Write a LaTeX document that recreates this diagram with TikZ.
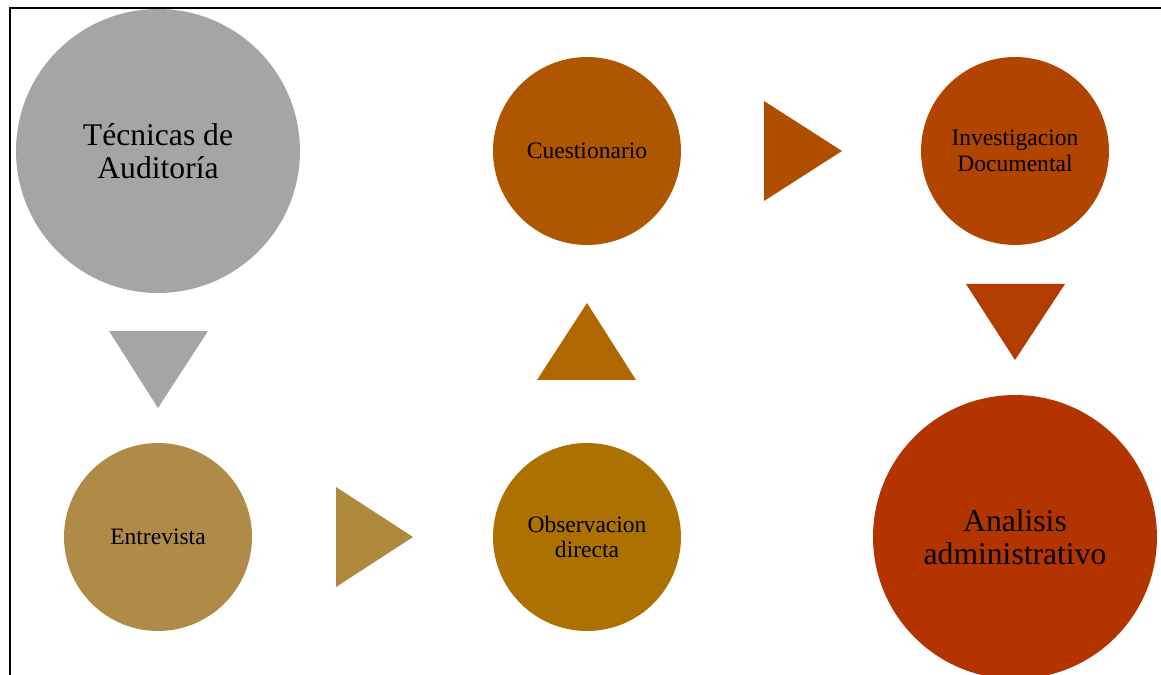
\documentclass[tikz,border=0pt]{standalone}
\usepackage{fontspec}
\setmainfont{Liberation Serif}
\usepackage{tikz}
\usetikzlibrary{arrows.meta}

\definecolor{grisC}{HTML}{A5A5A5}
\definecolor{ocreC}{HTML}{AF8B47}
\definecolor{ocreT}{HTML}{AE893C}
\definecolor{doradoC}{HTML}{AC7100}
\definecolor{doradoT}{HTML}{AF6800}
\definecolor{naranjaC}{HTML}{AE5700}
\definecolor{naranjaT}{HTML}{B04E00}
\definecolor{rojizoC}{HTML}{B14500}
\definecolor{rojizoT}{HTML}{B33C00}
\definecolor{ladrilloC}{HTML}{B43400}

\tikzset{
  bigcirc/.style={circle,inner sep=0pt,minimum size=5.68cm,align=center,
    font=\fontsize{18}{19}\selectfont},
  smallcirc/.style={circle,inner sep=0pt,minimum size=3.76cm,align=center,
    font=\fontsize{13.4}{14.7}\selectfont}
}

\begin{document}
\begin{tikzpicture}[x=0.02cm,y=-0.02cm]
\useasboundingbox (0,0) rectangle (1161,675);
\begin{scope}
    \clip (0,0) rectangle (1161,675);
    \node[bigcirc,fill=grisC] (tec) at (158,151) {T\'ecnicas de\\Auditor\'ia};
    \node[smallcirc,fill=ocreC] (ent) at (158,537) {Entrevista};
    \node[smallcirc,fill=doradoC] (obs) at (587,537) {Observacion\\directa};
    \node[smallcirc,fill=naranjaC] (cue) at (587,151) {Cuestionario};
    \node[smallcirc,fill=rojizoC] (inv) at (1015,151) {Investigacion\\Documental};
    \node[bigcirc,fill=ladrilloC] (ana) at (1015,537) {Analisis\\administrativo};
\end{scope}

% flechas triangulares
\begin{scope}
    \fill[grisC] (109,331) -- (208,331) -- (158,408) -- cycle;
    \fill[ocreT] (336,487) -- (413,537) -- (336,587) -- cycle;
    \fill[doradoT] (537,380) -- (636,380) -- (587,303) -- cycle;
    \fill[naranjaT] (764,101) -- (842,151) -- (764,201) -- cycle;
    \fill[rojizoT] (966,284) -- (1065,284) -- (1015,360) -- cycle;
\end{scope}

% marco
\draw[line width=0.8pt] (10,675) -- (10,8) -- (1161,8);
\end{tikzpicture}
\end{document}
